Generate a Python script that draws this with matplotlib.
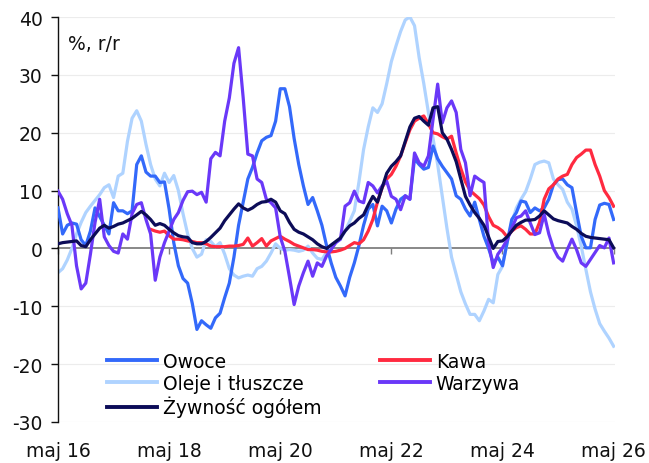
import numpy as np
import matplotlib
matplotlib.use("Agg")
import matplotlib.pyplot as plt

plt.rcParams['font.family'] = ['DejaVu Sans']
plt.rcParams['axes.unicode_minus'] = False

# months since May 2016 (0 = maj 16 ... 120 = maj 26)
tick_labels = ["maj 16", "maj 18", "maj 20", "maj 22", "maj 24", "maj 26"]
tick_months = [0, 24, 48, 72, 96, 120]

owoce = [7.0, 2.5, 4.0, 4.4, 4.2, 1.5, 0.5, 3.0, 7.0, 5.5, 4.0, 2.5, 7.9, 6.5, 6.5, 6.0, 6.5, 14.5, 16.0, 13.2,
         12.5, 12.5, 11.4, 11.5, 6.8, 1.0, -3.0, -5.2, -6.0, -9.5, -14.0, -12.5, -13.2, -13.8, -12.0, -11.2, -8.5, -6.0, -1.5, 4.0,
         8.0, 12.0, 14.0, 16.5, 18.6, 19.2, 19.5, 22.0, 27.6, 27.6, 24.5, 19.0, 14.5, 10.8, 7.6, 8.8, 6.5, 4.0, 0.5, -2.5,
         -5.0, -6.5, -8.2, -5.0, -2.5, 0.5, 4.0, 6.8, 7.6, 3.9, 7.3, 6.5, 4.4, 6.8, 8.5, 9.1, 8.5, 15.5, 14.5, 13.7,
         14.0, 17.7, 15.5, 14.2, 13.1, 12.0, 9.1, 8.5, 6.8, 5.6, 8.0, 5.0, 2.1, 0.0, -2.5, -1.5, -3.0, 1.0, 5.0, 6.2,
         8.2, 8.0, 6.2, 7.0, 6.5, 7.0, 8.5, 11.0, 11.9, 12.0, 11.0, 10.5, 6.2, 2.1, 0.1, 0.1, 5.0, 7.5, 7.8, 7.6,
         5.0]

kawa = [np.nan] * 20 + [
        3.3, 3.0, 2.8, 3.0, 2.2, 1.6, 1.6, 1.5, 1.3, 1.2, 1.0, 1.0, 0.8, 0.4, 0.3, 0.3, 0.3, 0.4, 0.4, 0.5,
        0.7, 1.8, 0.4, 1.0, 1.7, 0.4, 1.3, 1.7, 2.1, 1.6, 1.2, 0.7, 0.4, 0.1, -0.2, -0.2, -0.3, -0.5, -0.6, -0.6,
        -0.5, -0.3, 0.0, 0.5, 1.0, 0.8, 1.5, 3.0, 5.0, 8.0, 10.5, 12.0, 12.8, 14.2, 16.0, 18.3, 20.5, 22.0, 22.5, 22.9,
        21.5, 20.0, 19.8, 19.3, 18.9, 19.4, 16.5, 13.8, 11.5, 10.0, 9.3, 8.6, 7.5, 5.5, 4.0, 3.6, 3.0, 2.0, 3.0, 3.6,
        3.9, 3.3, 2.5, 2.5, 4.5, 8.5, 10.3, 11.0, 12.0, 12.5, 12.8, 14.5, 15.7, 16.3, 17.0, 17.0, 14.5, 12.5, 10.0, 8.8,
        7.3]

oleje = [-4.2, -3.5, -2.0, 0.0, 2.5, 4.5, 6.2, 7.3, 8.3, 9.3, 10.5, 11.0, 8.8, 12.5, 13.0, 18.5, 22.5, 23.8, 22.0, 18.0,
         14.5, 12.0, 10.8, 13.0, 11.4, 12.6, 10.0, 6.0, 2.5, 0.0, -1.5, -1.0, 1.5, 1.2, 0.3, 1.0, -1.0, -3.5, -4.6, -5.1,
         -4.8, -4.6, -4.8, -3.5, -3.1, -2.2, -0.8, 0.8, 0.0, -0.3, -0.2, -0.3, -0.5, -0.3, 0.4, -0.8, -1.7, -1.9, -0.7, 0.4,
         1.0, 1.6, 3.0, 4.7, 6.5, 11.5, 17.1, 21.0, 24.3, 23.5, 25.0, 28.5, 32.3, 35.0, 37.5, 39.5, 40.0, 38.5, 33.0, 28.5,
         23.5, 19.0, 14.5, 9.0, 3.5, -1.5, -4.5, -7.5, -9.6, -11.4, -11.4, -12.5, -10.8, -8.8, -9.4, -4.5, -3.1, 1.0, 4.5, 7.0,
         8.5, 9.8, 12.0, 14.5, 14.9, 15.1, 14.8, 12.0, 11.0, 10.2, 8.0, 6.8, 3.9, 0.4, -3.6, -7.5, -10.5, -13.0, -14.3, -15.5,
         -16.9]

warzywa = [9.9, 8.5, 6.0, 4.0, -3.0, -7.0, -6.0, -1.0, 4.5, 8.5, 2.0, 0.5, -0.5, -0.8, 2.5, 1.6, 6.0, 7.6, 7.9, 5.0,
           2.5, -5.5, -1.5, 1.0, 3.0, 5.0, 6.2, 8.3, 9.8, 9.9, 9.3, 9.7, 8.0, 15.5, 16.6, 16.0, 22.0, 26.0, 32.0, 34.7,
           26.0, 16.3, 16.0, 12.0, 11.4, 8.5, 7.9, 7.0, 2.0, -0.5, -5.0, -9.7, -6.5, -4.2, -2.2, -4.8, -2.5, -3.1, -1.3, -0.2,
           1.0, 1.6, 7.3, 7.9, 9.9, 8.2, 7.9, 11.4, 10.8, 9.6, 10.8, 11.6, 9.0, 8.5, 6.7, 9.1, 8.5, 16.5, 14.8, 14.2,
           16.0, 22.3, 28.4, 21.7, 24.3, 25.5, 23.5, 17.1, 14.8, 9.1, 12.5, 11.9, 11.4, 1.0, -3.3, -1.0, 0.1, 1.5, 3.5, 5.3,
           5.6, 6.5, 4.4, 2.4, 2.7, 5.9, 2.5, 0.0, -1.5, -2.2, -0.2, 1.6, -0.2, -2.5, -3.1, -1.9, -0.7, 0.5, 0.1, 1.8,
           -2.5]

zywnosc = [0.8, 1.0, 1.1, 1.2, 1.3, 0.5, 0.3, 1.5, 2.5, 3.5, 4.0, 3.5, 3.8, 4.2, 4.4, 4.8, 5.2, 5.8, 6.4, 5.8,
           5.0, 4.0, 4.3, 4.0, 3.3, 2.7, 2.2, 2.0, 1.9, 1.0, 0.8, 0.8, 1.2, 1.9, 2.7, 3.5, 4.8, 5.8, 6.8, 7.7,
           7.0, 6.6, 7.0, 7.6, 8.0, 8.1, 8.5, 8.0, 6.5, 6.0, 4.5, 3.3, 2.8, 2.5, 2.0, 1.5, 0.8, 0.3, 0.0, 0.6,
           1.2, 1.8, 3.0, 3.9, 4.4, 5.2, 5.8, 7.5, 9.0, 8.0, 10.5, 13.0, 14.2, 15.0, 16.0, 18.5, 21.0, 22.5, 22.8, 22.0,
           21.3, 24.3, 24.5, 20.0, 18.9, 17.1, 15.0, 12.0, 9.0, 7.5, 6.2, 5.2, 4.0, 2.0, 0.0, 1.2, 1.3, 2.0, 3.0, 4.0,
           4.5, 4.9, 4.9, 5.0, 5.6, 6.5, 5.8, 5.1, 4.8, 4.6, 4.4, 3.8, 3.3, 2.6, 2.1, 1.9, 1.8, 1.7, 1.6, 1.5,
           0.1]

months = np.arange(len(owoce))

C_OWOCE = "#3369FA"
C_KAWA = "#FF2A40"
C_OLEJE = "#AFD3FF"
C_WARZ = "#6A38F8"
C_ZYW = "#0C0C58"

W, H = 649, 464
L, R, T, B = 58, 615, 18, 423
fig = plt.figure(figsize=(W / 100, H / 100), dpi=100)
ax = fig.add_axes([L / W, 1 - B / H, (R - L) / W, (B - T) / H])

lw = 2.3
l_oleje, = ax.plot(months, oleje, color=C_OLEJE, lw=lw, zorder=2, label="Oleje i tłuszcze")
l_owoce, = ax.plot(months, owoce, color=C_OWOCE, lw=lw, zorder=3, label="Owoce")
l_kawa, = ax.plot(months, kawa, color=C_KAWA, lw=lw, zorder=4, label="Kawa")
l_warz, = ax.plot(months, warzywa, color=C_WARZ, lw=lw, zorder=5, label="Warzywa")
l_zyw, = ax.plot(months, zywnosc, color=C_ZYW, lw=lw, zorder=6, label="Żywność ogółem")

ax.set_xlim(0, 120.3)
ax.set_ylim(-30, 40)
ax.set_yticks(np.arange(-30, 41, 10))
ax.tick_params(axis='y', labelsize=13.5, direction='out', length=5, width=1, pad=6, colors='#111111')

for y in range(-30, 41, 10):
    if y != 0:
        ax.axhline(y, color='#ececec', lw=0.8, zorder=0)

for s in ['top', 'right']:
    ax.spines[s].set_visible(False)
ax.spines['left'].set_color('#111111')
ax.spines['left'].set_linewidth(1.0)
ax.spines['bottom'].set_position(('data', 0))
ax.spines['bottom'].set_color('#7f7f7f')
ax.spines['bottom'].set_linewidth(1.3)
ax.spines['bottom'].set_zorder(1)
ax.set_xticks(tick_months)
ax.tick_params(axis='x', direction='out', length=4, width=1, colors='#7f7f7f', labelbottom=False)

sec = ax.secondary_xaxis('bottom')
sec.set_xticks(tick_months)
sec.set_xticklabels(tick_labels)
sec.spines['bottom'].set_visible(False)
sec.tick_params(axis='x', length=0, pad=14, labelsize=13.5, labelcolor='#111111')

ax.text((68 - L) / (R - L), (B - 45) / (B - T), "%, r/r", transform=ax.transAxes, fontsize=13.5,
        color='#111111', va='center', ha='left')

leg_kw = dict(frameon=False, loc='upper left', fontsize=13.5, handlelength=2.65, handletextpad=0.32,
              labelspacing=0.15, borderpad=0, borderaxespad=0)
top_y = (B - 353) / (B - T)
leg1 = ax.legend(handles=[l_owoce, l_oleje, l_zyw], bbox_to_anchor=((107 - L) / (R - L), top_y), **leg_kw)
ax.add_artist(leg1)
leg2 = ax.legend(handles=[l_kawa, l_warz], bbox_to_anchor=((380 - L) / (R - L), top_y), **leg_kw)
for lg in (leg1, leg2):
    for h in lg.legend_handles:
        h.set_linewidth(2.8)

fig.savefig("out.png", dpi=100)
